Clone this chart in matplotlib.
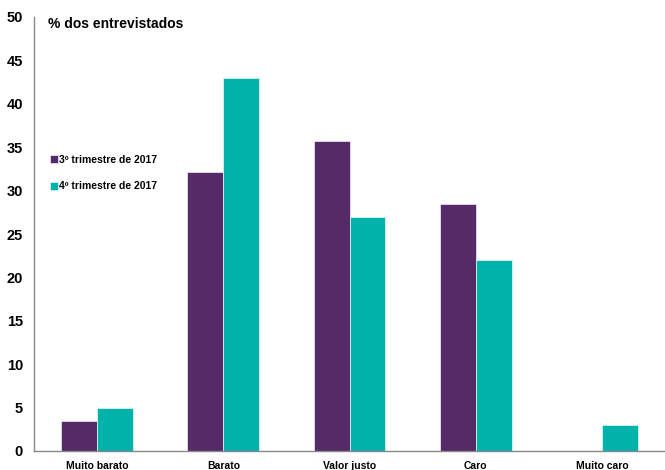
import matplotlib
matplotlib.use("Agg")
import matplotlib.pyplot as plt
import numpy as np

categories = ["Muito barato", "Barato", "Valor justo", "Caro", "Muito caro"]
series_names = ["3º trimestre de 2017", "4º trimestre de 2017"]
q3_2017 = [3.5, 32.1, 35.7, 28.5, 0.0]
q4_2017 = [4.9, 43.0, 27.0, 22.0, 3.0]
y_ticks = [0, 5, 10, 15, 20, 25, 30, 35, 40, 45, 50]

purple = "#552A68"
teal = "#00B2A9"

plt.rcParams["font.family"] = ["Liberation Sans", "DejaVu Sans"]

fig = plt.figure(figsize=(6.65, 4.70), dpi=100)
ax = fig.add_axes([34 / 665, 19 / 470, 1 - 34 / 665, 434 / 470])

x = np.arange(len(categories))
w = 0.285
ax.bar(x - w / 2, q3_2017, width=w, color=purple, edgecolor="#E8E0EE",
       linewidth=0.6, label=series_names[0])
ax.bar(x + w / 2, q4_2017, width=w, color=teal, edgecolor="#D8F2F0",
       linewidth=0.6, label=series_names[1])

ax.set_xlim(-0.5, 4.5)
ax.set_ylim(0, 50)
ax.set_yticks(y_ticks)
ax.set_yticklabels([str(t) for t in y_ticks], fontsize=10.5, fontweight="bold")
ax.set_xticks(x)
ax.set_xticklabels(categories, fontsize=7.5, fontweight="bold")
ax.tick_params(axis="y", length=0, pad=8)
ax.tick_params(axis="x", length=0, pad=7)

for side in ["top", "right"]:
    ax.spines[side].set_visible(False)
ax.spines["left"].set_color("#888888")
ax.spines["bottom"].set_color("#888888")
ax.spines["left"].set_linewidth(1.0)
ax.spines["bottom"].set_linewidth(1.0)

fig.text(48 / 665, 1 - 24 / 470, "% dos entrevistados", fontsize=10,
         fontweight="bold", va="center", ha="left")

leg = ax.legend(loc="upper left", bbox_to_anchor=(50 / 665, 1 - 155 / 470),
                bbox_transform=fig.transFigure, frameon=False,
                prop={"size": 7.5, "weight": "bold"},
                handlelength=0.8, handleheight=0.8, handletextpad=0.1,
                labelspacing=1.55, borderpad=0, borderaxespad=0)

fig.savefig("out.png", dpi=100)
